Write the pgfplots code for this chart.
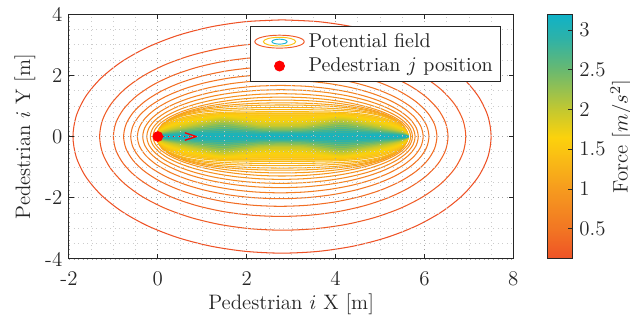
\documentclass[border=0pt]{standalone}
\usepackage{pgfplots}
\pgfplotsset{compat=1.18}
\usepackage{pgfplotstable}
\usetikzlibrary{arrows.meta}
\definecolor{axgray}{RGB}{38,38,38}
\definecolor{legred}{RGB}{240,90,40}
\definecolor{legyel}{RGB}{250,195,20}
\definecolor{legcyan}{RGB}{30,180,210}
\pgfplotsset{colormap={forcemap}{rgb255(12pt)=(238,82,38); rgb255(50pt)=(242,118,35); rgb255(100pt)=(246,155,30); rgb255(135pt)=(249,185,22); rgb255(165pt)=(252,210,12); rgb255(200pt)=(195,200,48); rgb255(250pt)=(105,185,112); rgb255(290pt)=(45,178,168); rgb255(320pt)=(15,178,200)}}

% unit ellipse template (cos, sin), starting at the top
\pgfplotstableread{
c s
0 1
-0.1736 0.9848
-0.3420 0.9397
-0.5 0.8660
-0.6428 0.7660
-0.7660 0.6428
-0.8660 0.5
-0.9397 0.3420
-0.9848 0.1736
-1 0
-0.9848 -0.1736
-0.9397 -0.3420
-0.8660 -0.5
-0.7660 -0.6428
-0.6428 -0.7660
-0.5 -0.8660
-0.3420 -0.9397
-0.1736 -0.9848
0 -1
0.1736 -0.9848
0.3420 -0.9397
0.5 -0.8660
0.6428 -0.7660
0.7660 -0.6428
0.8660 -0.5
0.9397 -0.3420
0.9848 -0.1736
1 0
0.9848 0.1736
0.9397 0.3420
0.8660 0.5
0.7660 0.6428
0.6428 0.7660
0.5 0.8660
0.3420 0.9397
0.1736 0.9848
0 1
}\unitc

% half widths of the inner contour lines
\pgfplotstableread{
x k11 k12 k13 k14 k15 k16 k17 k18 k19 k20 k21 k22 k23 k24 k25 k26 k27 k28 k29 k30 k31 k32 k33
-0.04 0 0 0 0 0 0 0 0 0 0 0 0 0 0 0 0 0 0 0 0 0 0 0
0 .180 .174 .171 .164 .158 .146 .135 .124 .113 .103 .094 .085 .076 .068 .059 .052 .045 .038 .031 .024 .018 .012 .005
0.1 .400 .387 .379 .365 .352 .324 .300 .276 .252 .228 .208 .188 .168 .152 .132 .116 .100 .084 .068 .054 .040 .026 .012
0.3 .600 .581 .569 .547 .528 .487 .452 .417 .382 .348 .319 .290 .261 .238 .208 .184 .159 .134 .109 .086 .064 .041 .019
0.6 .791 .763 .744 .713 .686 .634 .591 .548 .507 .467 .434 .399 .364 .334 .297 .266 .231 .196 .159 .125 .092 .059 .027
1.0 .952 .908 .876 .831 .792 .735 .692 .649 .611 .574 .545 .511 .477 .447 .407 .371 .324 .277 .225 .177 .129 .081 .038
1.45 1.067 1.004 .956 .897 .845 .788 .750 .712 .685 .657 .639 .611 .583 .555 .517 .478 .420 .362 .293 .230 .166 .102 .049
1.85 1.132 1.056 .997 .928 .867 .804 .757 .710 .669 .627 .596 .559 .522 .488 .445 .406 .354 .303 .245 .193 .141 .088 .042
2.3 1.175 1.089 1.022 .945 .877 .809 .751 .693 .636 .579 .532 .485 .437 .398 .349 .309 .267 .225 .182 .145 .107 .069 .032
2.8 1.19 1.10 1.03 .95 .88 .81 .75 .69 .63 .57 .52 .47 .42 .38 .33 .29 .25 .21 .17 .135 .10 .065 .03
3.3 1.175 1.089 1.022 .945 .877 .809 .751 .693 .636 .579 .532 .485 .437 .398 .349 .309 .267 .225 .182 .145 .107 .069 .032
3.75 1.132 1.056 .997 .928 .867 .804 .757 .710 .669 .627 .596 .559 .522 .488 .445 .406 .354 .303 .245 .193 .141 .088 .042
4.15 1.067 1.004 .956 .897 .845 .788 .750 .712 .685 .657 .639 .611 .583 .555 .517 .478 .420 .362 .293 .230 .166 .102 .049
4.6 .952 .908 .876 .831 .792 .735 .692 .649 .611 .574 .545 .511 .477 .447 .407 .371 .324 .277 .225 .177 .129 .081 .038
5.0 .791 .763 .744 .713 .686 .634 .591 .548 .507 .467 .434 .399 .364 .334 .297 .266 .231 .196 .159 .125 .092 .059 .027
5.3 .600 .581 .569 .547 .528 .487 .452 .417 .382 .348 .319 .290 .261 .238 .208 .184 .159 .134 .109 .086 .064 .041 .019
5.5 .400 .387 .379 .365 .352 .324 .300 .276 .252 .228 .208 .188 .168 .152 .132 .116 .100 .084 .068 .054 .040 .026 .012
5.6 .180 .174 .171 .164 .158 .146 .135 .124 .113 .103 .094 .085 .076 .068 .059 .052 .045 .038 .031 .024 .018 .012 .005
5.64 0 0 0 0 0 0 0 0 0 0 0 0 0 0 0 0 0 0 0 0 0 0 0
}\prof

% outer contour: left end, right end, half height, colour (per mille)
\newcommand{\ellc}[4]{\addplot[forget plot, smooth, line width=0.55pt, color of colormap={#4 of forcemap}] table[x expr={((#1)+(#2))/2+((#2)-(#1))/2*\thisrow{c}}, y expr={(#3)*\thisrow{s}}] {\unitc};}
% inner contour: column, colour (per mille)
\newcommand{\inner}[2]{\addplot[forget plot, smooth, line width=0.55pt, color of colormap={#2 of forcemap}] table[x=x, y=#1] {\prof};
\addplot[forget plot, smooth, line width=0.55pt, color of colormap={#2 of forcemap}] table[x=x, y expr={-\thisrow{#1}}] {\prof};}
% inner contour with a fill of the band inside it
\newcommand{\innerf}[2]{\addplot[forget plot, smooth, draw=none, color of colormap={#2 of forcemap}, fill, fill opacity=0.55] table[x=x, y=#1] {\prof} \closedcycle;
\addplot[forget plot, smooth, draw=none, color of colormap={#2 of forcemap}, fill, fill opacity=0.55] table[x=x, y expr={-\thisrow{#1}}] {\prof} \closedcycle;
\inner{#1}{#2}}

\begin{document}
\begin{tikzpicture}
\begin{axis}[name=main, scale only axis, width=233.9pt, height=128.9pt,
  xmin=-2, xmax=8, ymin=-4, ymax=4,
  xtick={-2,0,2,4,6,8}, xticklabels={-2,0,2,4,6,8},
  ytick={-4,-2,0,2,4}, yticklabels={-4,-2,0,2,4},
  minor x tick num=3, minor y tick num=3,
  grid=both,
  major grid style={dotted, black!35, line width=0.4pt},
  minor grid style={dotted, black!20, line width=0.4pt},
  axis on top, tick align=inside, major tick length=2.5pt, minor tick length=0pt,
  axis line style={axgray, line width=0.5pt},
  every tick/.style={axgray, line width=0.5pt},
  tick label style={font=\fontsize{11}{13}\selectfont, text=axgray},
  xticklabel style={yshift=-3pt},
  xlabel={Pedestrian $i$ X [m]}, ylabel={Pedestrian $i$ Y [m]},
  label style={font=\fontsize{11}{13}\selectfont, text=axgray},
  xlabel style={at={(axis description cs:0.5,-0.185)}, anchor=center},
  ylabel style={at={(axis description cs:-0.099,0.5)}, anchor=center},
  colormap name=forcemap, point meta min=0.12, point meta max=3.2,
  colorbar,
  colorbar style={at={(parent axis.north east)}, anchor=north west, xshift=9.5pt, width=13.2pt,
    ytick={0.5,1,1.5,2,2.5,3}, yticklabels={0.5,1,1.5,2,2.5,3},
    ytick pos=right, tick align=inside, major tick length=2.5pt,
    axis line style={axgray, line width=0.5pt},
    every tick/.style={axgray, line width=0.5pt},
    yticklabel style={font=\fontsize{11}{13}\selectfont, text=axgray},
    ylabel={Force $[m/s^2]$},
    ylabel style={font=\fontsize{11}{13}\selectfont, text=axgray, at={(axis description cs:2.95,0.5)}, anchor=center}},
  legend style={at={(0.972,0.951)}, anchor=north east, draw=axgray, line width=0.5pt, fill=white,
    font=\fontsize{10.5}{12.5}\selectfont, text=axgray, inner xsep=2pt, inner ysep=1.5pt,
    nodes={inner sep=2pt}},
  legend cell align=left]

\ellc{-1.91}{7.50}{3.81}{0}
\ellc{-1.31}{6.93}{3.06}{30}
\ellc{-1.00}{6.53}{2.61}{61}
\ellc{-0.77}{6.28}{2.28}{91}
\ellc{-0.61}{6.10}{2.03}{121}
\ellc{-0.46}{5.97}{1.84}{152}
\ellc{-0.34}{5.86}{1.67}{182}
\ellc{-0.25}{5.79}{1.53}{213}
\ellc{-0.17}{5.73}{1.40}{243}
\ellc{-0.11}{5.69}{1.29}{270}
\inner{k11}{290}
\inner{k12}{310}
\inner{k13}{330}
\inner{k14}{350}
\inner{k15}{377}
\innerf{k16}{409}
\innerf{k17}{435}
\innerf{k18}{458}
\innerf{k19}{481}
\innerf{k20}{500}
\innerf{k21}{519}
\innerf{k22}{539}
\innerf{k23}{562}
\innerf{k24}{588}
\innerf{k25}{620}
\innerf{k26}{659}
\innerf{k27}{708}
\innerf{k28}{756}
\innerf{k29}{805}
\innerf{k30}{864}
\innerf{k31}{909}
\innerf{k32}{951}
\innerf{k33}{984}

\addplot[forget plot, red, dotted, line width=0.7pt, -{Straight Barb[length=6pt,width=4pt]}] coordinates {(0,0) (0.91,0)};
\addplot[forget plot, only marks, mark=*, mark size=2.6pt, mark options={fill=red, draw=red}] coordinates {(0,0)};

\addlegendimage{legend image code/.code={
  \draw[legred, line width=0.5pt] (13pt,0pt) ellipse (13pt and 3.4pt);
  \draw[legyel, line width=0.5pt] (13pt,0pt) ellipse (8.5pt and 2.3pt);
  \draw[legcyan, line width=0.5pt] (13pt,0pt) ellipse (4pt and 1.3pt);}}
\addlegendentry{Potential field}
\addlegendimage{legend image code/.code={\fill[red] (13pt,0pt) circle (2.6pt);}}
\addlegendentry{Pedestrian $j$ position}
\end{axis}
\pgfresetboundingbox
\path (main.south west) ++(-36.3pt,-33.2pt) rectangle ++(331.6pt,169.5pt);
\end{tikzpicture}
\end{document}
